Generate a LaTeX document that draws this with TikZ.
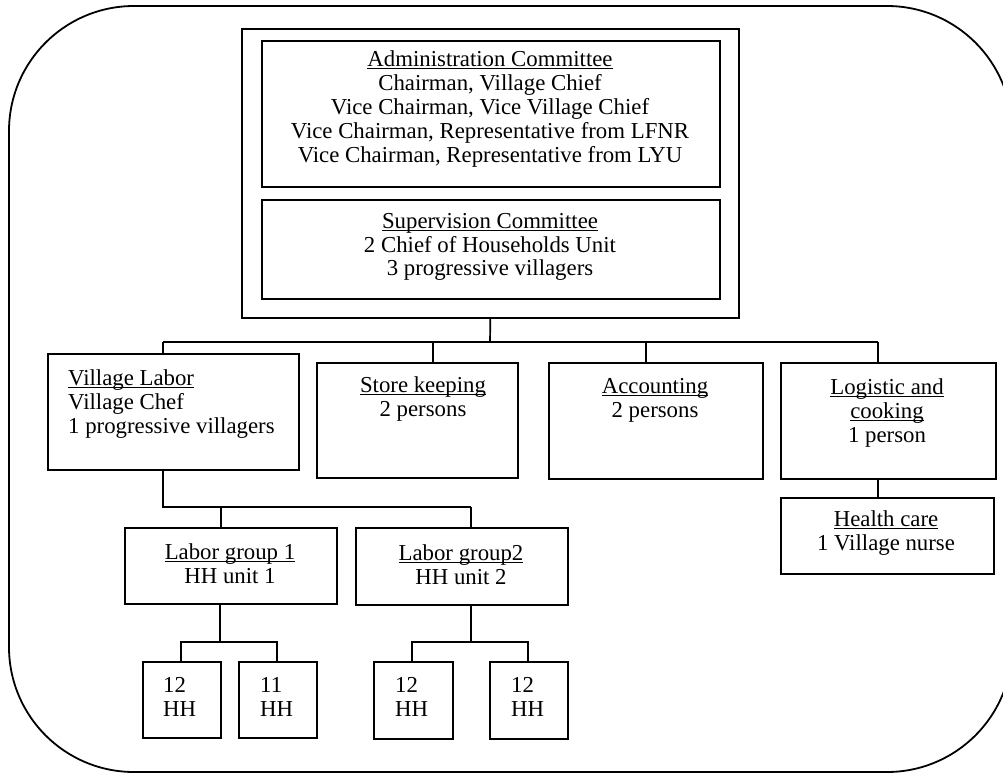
\documentclass[tikz,border=0pt]{standalone}
\usepackage{fontspec}
\setmainfont{Liberation Serif}
\newsavebox\ulbox
\newcommand\ulx[1]{\leavevmode\sbox\ulbox{#1}\rlap{\rule[-2.4pt]{\wd\ulbox}{1.1pt}}\usebox\ulbox}
\begin{document}
\begin{tikzpicture}[x=1pt,y=-1pt,
  box/.style={draw, line width=1.7pt, inner sep=0pt, anchor=north west},
  lbl/.style={inner sep=0pt, font=\fontsize{22.8}{23.8}\selectfont, align=center},
  lbll/.style={lbl, align=left, anchor=west},
  link/.style={line width=1.7pt},
  frame/.style={line width=1.8pt, rounded corners=125pt}]
\useasboundingbox (0,0) rectangle (1003,774);
\clip (0,0) rectangle (1003,774);

% outer rounded frame
\draw[frame] (9,6) rectangle (1012,772);

% committee block
\node[box, minimum width=497pt, minimum height=289pt] (top) at (241,28) {};
\node[box, minimum width=458pt, minimum height=146pt] (adm) at (261,40) {};
\node[box, minimum width=458pt, minimum height=99pt] (sup) at (261,199) {};
\node[lbl] (admt) at (490,109) {\ulx{Administration Committee}\\Chairman, Village Chief\\Vice Chairman, Vice Village Chief\\Vice Chairman, Representative from LFNR\\Vice Chairman, Representative from LYU};
\node[lbl] (supt) at (490,247) {\ulx{Supervision Committee}\\2 Chief of Households Unit\\3 progressive villagers};

% second level
\node[box, minimum width=251pt, minimum height=116pt] (vl) at (47,353) {};
\node[box, minimum width=201pt, minimum height=115pt] (sk) at (316,362) {};
\node[box, minimum width=214pt, minimum height=116pt] (acc) at (548,362) {};
\node[box, minimum width=215pt, minimum height=116pt] (log) at (780,362) {};
\node[box, minimum width=213pt, minimum height=76pt] (hc) at (780,497) {};
\node[lbll] (vlt) at (68,404) {\ulx{Village Labor}\\Village Chef\\1 progressive villagers};
\node[lbl] (skt) at (423,399) {\ulx{Store keeping}\\2 persons};
\node[lbl] (acct) at (655,400) {\ulx{Accounting}\\2 persons};
\node[lbl] (logt) at (887,413) {\ulx{Logistic and}\\\ulx{cooking}\\1 person};
\node[lbl] (hct) at (886,533) {\ulx{Health care}\\1 Village nurse};

% labour groups
\node[box, minimum width=212pt, minimum height=76pt] (lg1) at (124,527) {};
\node[box, minimum width=212pt, minimum height=77pt] (lg2) at (355,527) {};
\node[lbl] (lg1t) at (230,564) {\ulx{Labor group 1}\\HH unit 1};
\node[lbl] (lg2t) at (461,565) {\ulx{Labor group2}\\HH unit 2};

% household units
\node[box, minimum width=78pt, minimum height=76pt] (hh1) at (142,661) {};
\node[box, minimum width=78pt, minimum height=76pt] (hh2) at (238,661) {};
\node[box, minimum width=79pt, minimum height=77pt] (hh3) at (373,661) {};
\node[box, minimum width=78pt, minimum height=77pt] (hh4) at (489,661) {};
\node[lbll] (hh1t) at (163,697) {12\\HH};
\node[lbll] (hh2t) at (260,697) {11\\HH};
\node[lbll] (hh3t) at (395,697) {12\\HH};
\node[lbll] (hh4t) at (511,697) {12\\HH};

% bus below the committees
\coordinate (bus) at (490,342);
\coordinate (b1) at (163,342);
\coordinate (b2) at (433,342);
\coordinate (b3) at (646,342);
\coordinate (b4) at (878,342);
\draw[link] (top.south) -- (bus);
\draw[link] (b1) -- (b4);
\draw[link] (b1) -- (b1 |- vl.north);
\draw[link] (b2) -- (b2 |- sk.north);
\draw[link] (b3) -- (b3 |- acc.north);
\draw[link] (b4) -- (b4 |- log.north);
\draw[link] (b4 |- log.south) -- (b4 |- hc.north);

% village labour to groups
\coordinate (g0) at (163,507);
\coordinate (g1) at (221,507);
\coordinate (g2) at (471,507);
\draw[link] (g0 |- vl.south) -- (g0) -- (g2);
\draw[link] (g1) -- (g1 |- lg1.north);
\draw[link] (g2) -- (g2 |- lg2.north);

% groups to households
\coordinate (p1) at (220,642);
\coordinate (p1a) at (181,642);
\coordinate (p1b) at (277,642);
\draw[link] (p1 |- lg1.south) -- (p1);
\draw[link] (p1a |- hh1.north) -- (p1a) -- (p1b) -- (p1b |- hh2.north);
\coordinate (p2) at (471,642);
\coordinate (p2a) at (412,642);
\coordinate (p2b) at (528,642);
\draw[link] (p2 |- lg2.south) -- (p2);
\draw[link] (p2a |- hh3.north) -- (p2a) -- (p2b) -- (p2b |- hh4.north);
\end{tikzpicture}
\end{document}
